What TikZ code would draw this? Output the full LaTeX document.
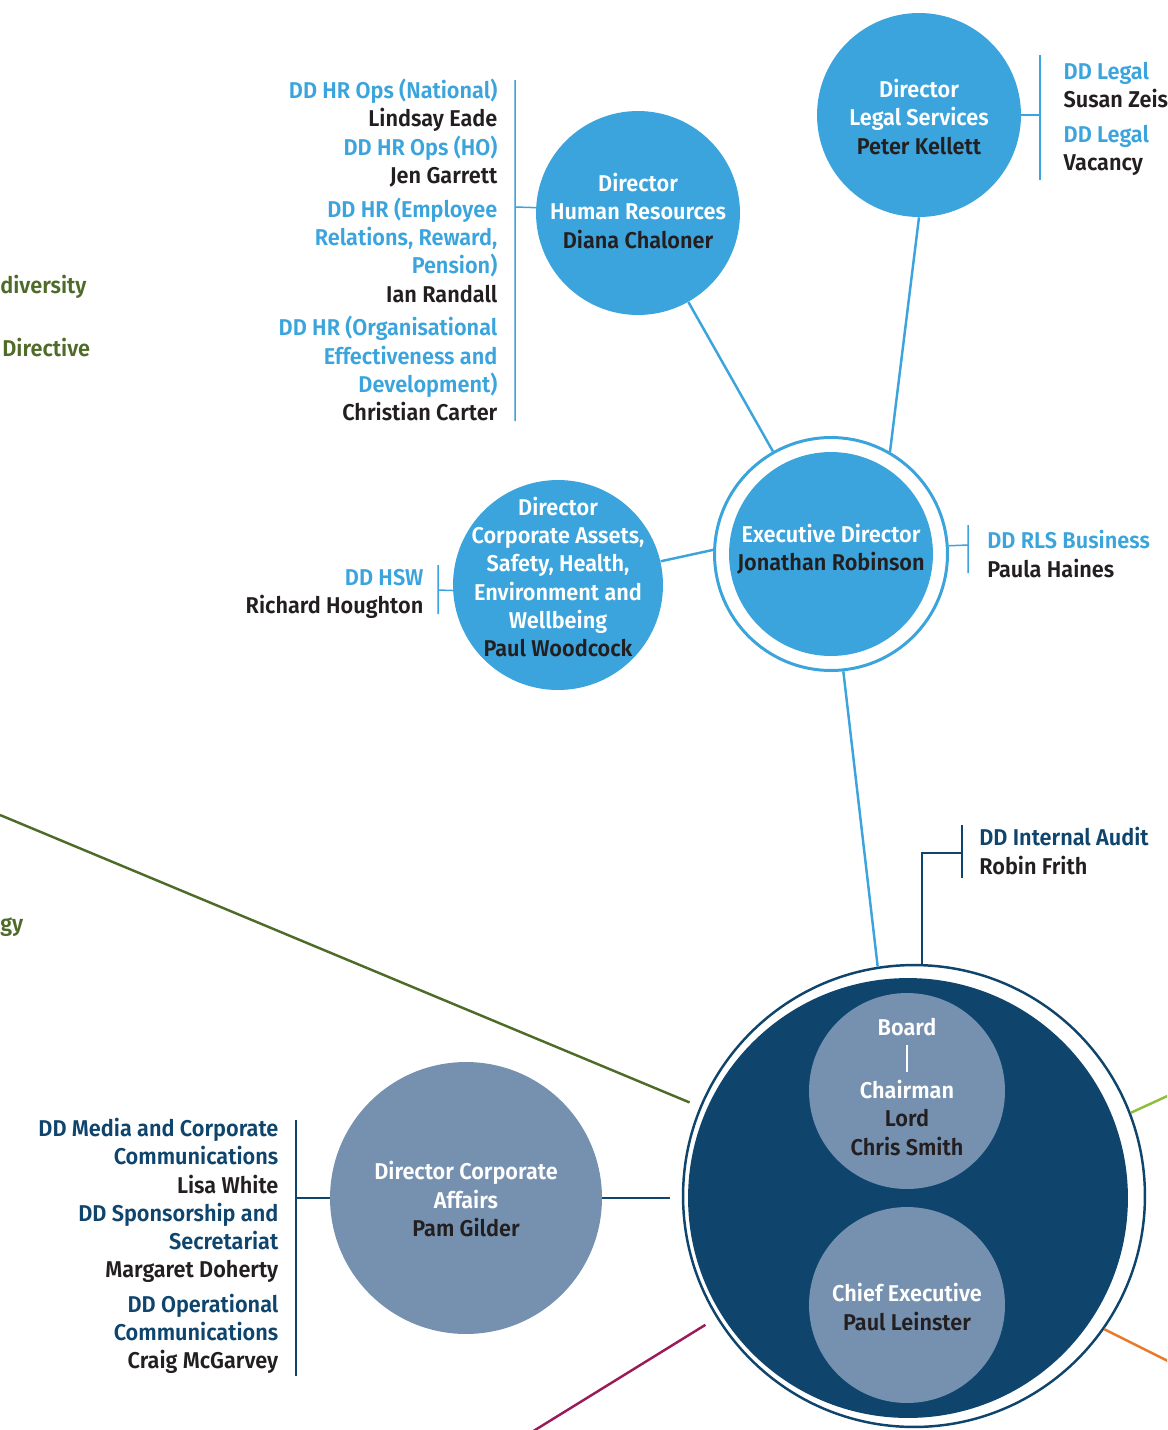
\documentclass[tikz,border=0pt]{standalone}
\usepackage{fontspec}
\setmainfont{Fira Sans}[UprightFont={* SemiBold}, FakeStretch=0.95]
\usetikzlibrary{positioning}

\definecolor{sky}{HTML}{3BA4DC}
\definecolor{navy}{HTML}{0F456D}
\definecolor{slate}{HTML}{7691B0}
\definecolor{ink}{HTML}{231F20}
\definecolor{olive}{HTML}{4F6B2A}
\definecolor{leaf}{HTML}{8DBE3A}
\definecolor{plum}{HTML}{9B1B5A}
\definecolor{amber}{HTML}{E8792A}

\newcommand{\pname}[1]{\textcolor{ink}{#1}}

\begin{document}
\begin{tikzpicture}[
    x=0.02cm, y=-0.02cm,
    every node/.style={inner sep=0pt, font=\fontsize{13}{16.1}\selectfont},
    dirnode/.style={circle, fill=sky, minimum size=4.08cm},
    slatenode/.style={circle, fill=slate, minimum size=#1},
    intitle/.style={text=white, align=center},
    ddleft/.style={text=#1, align=right, anchor=east},
    ddright/.style={text=#1, align=left, anchor=west},
    spoke/.style={line width=1.4pt},
    bracket/.style={line width=0.85pt}
]
\useasboundingbox (0,0) rectangle (1167,1430);
\clip (0,0) rectangle (1167,1430);

% directors round the executive director
\node[dirnode] (legal) at (919,115) {};
\node[intitle] (legal-t) at (919,117) {Director\\Legal Services\\\pname{Peter Kellett}};
\node[dirnode] (hr) at (638,213) {};
\node[intitle] (hr-t) at (638,211) {Director\\Human Resources\\\pname{Diana Chaloner}};
\node[dirnode, minimum size=4.2cm] (assets) at (558,585) {};
\node[intitle] (assets-t) at (558,577) {Director\\Corporate Assets,\\Safety, Health,\\Environment and\\Wellbeing\\\pname{Paul Woodcock}};
\node[circle, draw=sky, line width=1.7pt, minimum size=4.66cm] (execring) at (831,554) {};
\node[dirnode] (exec) at (831,554) {};
\node[intitle] (exec-t) at (831,549) {Executive Director\\\pname{Jonathan Robinson}};

% board and chief executive
\node[circle, draw=navy, line width=1.4pt, minimum size=9.24cm] (mainring) at (914,1196) {};
\node[circle, fill=navy, minimum size=8.8cm] (main) at (908,1198) {};
\node[slatenode=3.92cm] (board) at (907,1091) {};
\node[intitle] (board-t) at (907,1087) {Board\\[0.16cm]\rule{0.04cm}{0.54cm}\\[-0.04cm]Chairman\\\pname{Lord}\\\pname{Chris Smith}};
\node[slatenode=3.92cm] (chief) at (907,1305) {};
\node[intitle] (chief-t) at (907,1307) {Chief Executive\\\pname{Paul Leinster}};
\node[slatenode=5.44cm] (affairs) at (466,1198) {};
\node[intitle] (affairs-t) at (466,1199) {Director Corporate\\Affairs\\\pname{Pam Gilder}};

% deputy directors
\node[ddright=sky, right=0.84cm of legal, yshift=-0.08cm] (legal-dd) {DD Legal\\\pname{Susan Zeis}\\[0.12cm]DD Legal\\\pname{Vacancy}};
\node[ddleft=sky, left=0.76cm of hr, yshift=-0.74cm] (hr-dd) {DD HR Ops (National)\\\pname{Lindsay Eade}\\DD HR Ops (HO)\\\pname{Jen Garrett}\\[0.11cm]DD HR (Employee\\Relations, Reward,\\Pension)\\\pname{Ian Randall}\\[0.11cm]DD HR (Organisational\\Effectiveness and\\Development)\\\pname{Christian Carter}};
\node[ddright=sky, right=0.76cm of execring] (exec-dd) {DD RLS Business\\\pname{Paula Haines}};
\node[ddleft=sky, left=0.58cm of assets, yshift=-0.18cm] (assets-dd) {DD HSW\\\pname{Richard Houghton}};
\node[ddright=navy, anchor=west] (audit-dd) at (979,851) {DD Internal Audit\\\pname{Robin Frith}};
\node[ddleft=navy, left=1.02cm of affairs, yshift=-0.96cm] (affairs-dd) {DD Media and Corporate\\Communications\\\pname{Lisa White}\\DD Sponsorship and\\Secretariat\\\pname{Margaret Doherty}\\[0.12cm]DD Operational\\Communications\\\pname{Craig McGarvey}};

% cut-off texts on the left
\node[text=olive, anchor=west] (bio) at (0,287) {diversity};
\node[text=olive, anchor=west] (wfd) at (2,348) {Directive};
\node[text=olive, anchor=west] (strat) at (0,927) {gy};

% spokes
\draw[spoke, sky] (hr) -- (execring);
\draw[spoke, sky] (legal.south) -- (execring.60);
\draw[spoke, sky] (assets.13) -- (execring.178);
\draw[spoke, sky] (execring.-84) -- (mainring.99);
\draw[spoke, navy, shorten >=0.24cm] (affairs.east) -- (affairs.east -| mainring.west);

\coordinate (olive-end) at (0,815);
\coordinate (plum-end) at (480,1464);
\coordinate (leaf-end) at (1200,1081);
\coordinate (amber-end) at (1200,1377);
\draw[spoke, olive, shorten >=0.22cm] (olive-end) -- (mainring);
\draw[spoke, plum, shorten >=0.26cm] (plum-end) -- (mainring);
\draw[spoke, leaf] (mainring.21) -- (leaf-end);
\draw[spoke, amber] (mainring.-35) -- (amber-end);

% brackets
\coordinate (legal-b) at (1040,115);
\coordinate (legal-top) at (1040,55);
\coordinate (legal-bot) at (1040,180);
\draw[bracket, sky] (legal.east) -- (legal-b) (legal-top) -- (legal-bot);

\coordinate (hr-b) at (515,207);
\coordinate (hr-top) at (515,80);
\coordinate (hr-bot) at (515,421);
\draw[bracket, sky] (hr.177) -- (hr-b) (hr-top) -- (hr-bot);

\coordinate (exec-b) at (968,545);
\coordinate (exec-top) at (968,525);
\coordinate (exec-bot) at (968,573);
\draw[bracket, sky] (execring.4) -- (exec-b) (exec-top) -- (exec-bot);

\coordinate (assets-b) at (438,590);
\coordinate (assets-top) at (438,565);
\coordinate (assets-bot) at (438,614);
\draw[bracket, sky] (assets.183) -- (assets-b) (assets-top) -- (assets-bot);

\coordinate (audit-b) at (962,853);
\coordinate (audit-top) at (962,825);
\coordinate (audit-bot) at (962,878);
\draw[bracket, navy] (mainring.88.5) |- (audit-b) (audit-top) -- (audit-bot);

\coordinate (affairs-b) at (296,1198);
\coordinate (affairs-top) at (296,1120);
\coordinate (affairs-bot) at (296,1376);
\draw[bracket, navy] (affairs.west) -- (affairs-b) (affairs-top) -- (affairs-bot);

\end{tikzpicture}
\end{document}
